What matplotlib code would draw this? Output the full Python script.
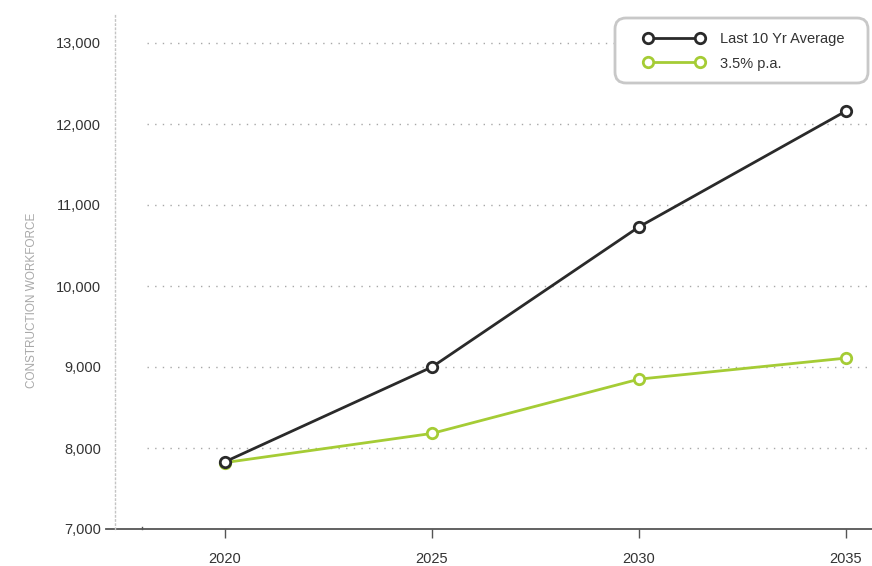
import matplotlib
matplotlib.use("Agg")
import matplotlib.pyplot as plt
from matplotlib.patches import FancyBboxPatch

plt.rcParams["font.family"] = ["Liberation Sans", "DejaVu Sans"]

# data
YEARS = [2020, 2025, 2030, 2035]
AVG_10YR = [7830, 9000, 10730, 12160]
PA_35 = [7820, 8180, 8850, 9110]
SERIES_NAMES = ["Last 10 Yr Average", "3.5% p.a."]
YTICKS = [7000, 8000, 9000, 10000, 11000, 12000, 13000]

BLACK = "#2a2a2a"; GREEN = "#a5cc35"; GRID = "#a8a8a8"; AXIS = "#555555"; TXT = "#333333"

W, H = 872, 566
fig = plt.figure(figsize=(W / 100, H / 100), dpi=100)
# axes box in pixels: left 115, right 872, top 14, bottom 529
ax = fig.add_axes([115 / W, 37 / H, (872 - 115) / W, (529 - 14) / H])
px_per_yr = 207 / 5.0
x0 = 2020 - 110 / px_per_yr
x1 = 2035 + 26 / px_per_yr
ax.set_xlim(x0, x1)
ax.set_ylim(7000, 7000 + 515 / 81 * 1000)

# dotted gridlines starting a little right of the y axis
gx = x0 + 32 / px_per_yr
ax.hlines(YTICKS[1:], gx, x1, colors=GRID, linestyles=(0, (1, 4.5)), lw=1.0, zorder=1)

for s in ["top", "right", "bottom"]:
    ax.spines[s].set_visible(False)
ax.spines["left"].set_linestyle((0, (1, 2)))
ax.spines["left"].set_color("#c4c4c4")
ax.spines["left"].set_linewidth(1.0)

# solid baseline extending left of the axes
ax.plot([x0 - 9 / px_per_yr, x1], [7000, 7000], color=AXIS, lw=1.3, clip_on=False, zorder=2)
ax.plot([x0 + 27 / px_per_yr] * 2, [7000, 7000 + 2 / 81 * 1000], color=AXIS, lw=1.0, clip_on=False)

ax.plot(YEARS, AVG_10YR, color=BLACK, lw=2.0, marker="o", ms=7.5, mfc="white",
        mec=BLACK, mew=2.0, label=SERIES_NAMES[0], zorder=4, clip_on=False)
ax.plot(YEARS, PA_35, color=GREEN, lw=2.0, marker="o", ms=7.5, mfc="white",
        mec=GREEN, mew=2.0, label=SERIES_NAMES[1], zorder=3, clip_on=False)

ax.set_xticks(YEARS)
ax.set_xticklabels([str(y) for y in YEARS])
ax.set_yticks(YTICKS)
ax.set_yticklabels([f"{v:,}" for v in YTICKS])
ax.tick_params(axis="x", length=6.5, width=1.0, color=AXIS, pad=10, labelsize=10.5, labelcolor=TXT)
ax.tick_params(axis="y", length=0, pad=10, labelsize=10.5, labelcolor=TXT)

fig.text(32 / W, 1 - 300 / H, "CONSTRUCTION WORKFORCE", rotation=90, ha="center", va="center",
         fontsize=8.5, color="#a8a8a8")

# legend frame drawn by hand (wider left padding than matplotlib's uniform borderpad)
frame = FancyBboxPatch((615, H - 83), 253, 65, boxstyle="round,pad=0,rounding_size=11",
                       fc="white", ec="#c8c8c8", lw=2.0, transform=None, zorder=5)
ax.add_patch(frame)
frame.set_clip_on(False)
leg = ax.legend(loc="upper left", bbox_to_anchor=(643.5 / W, 1 - 32.5 / H), bbox_transform=fig.transFigure,
                borderaxespad=0, borderpad=0, numpoints=2, handlelength=4.17, handletextpad=1.07,
                fontsize=10.5, frameon=False, labelspacing=0.69, labelcolor=TXT)
leg.set_zorder(6)

fig.savefig("out.png", dpi=100, facecolor="white")
